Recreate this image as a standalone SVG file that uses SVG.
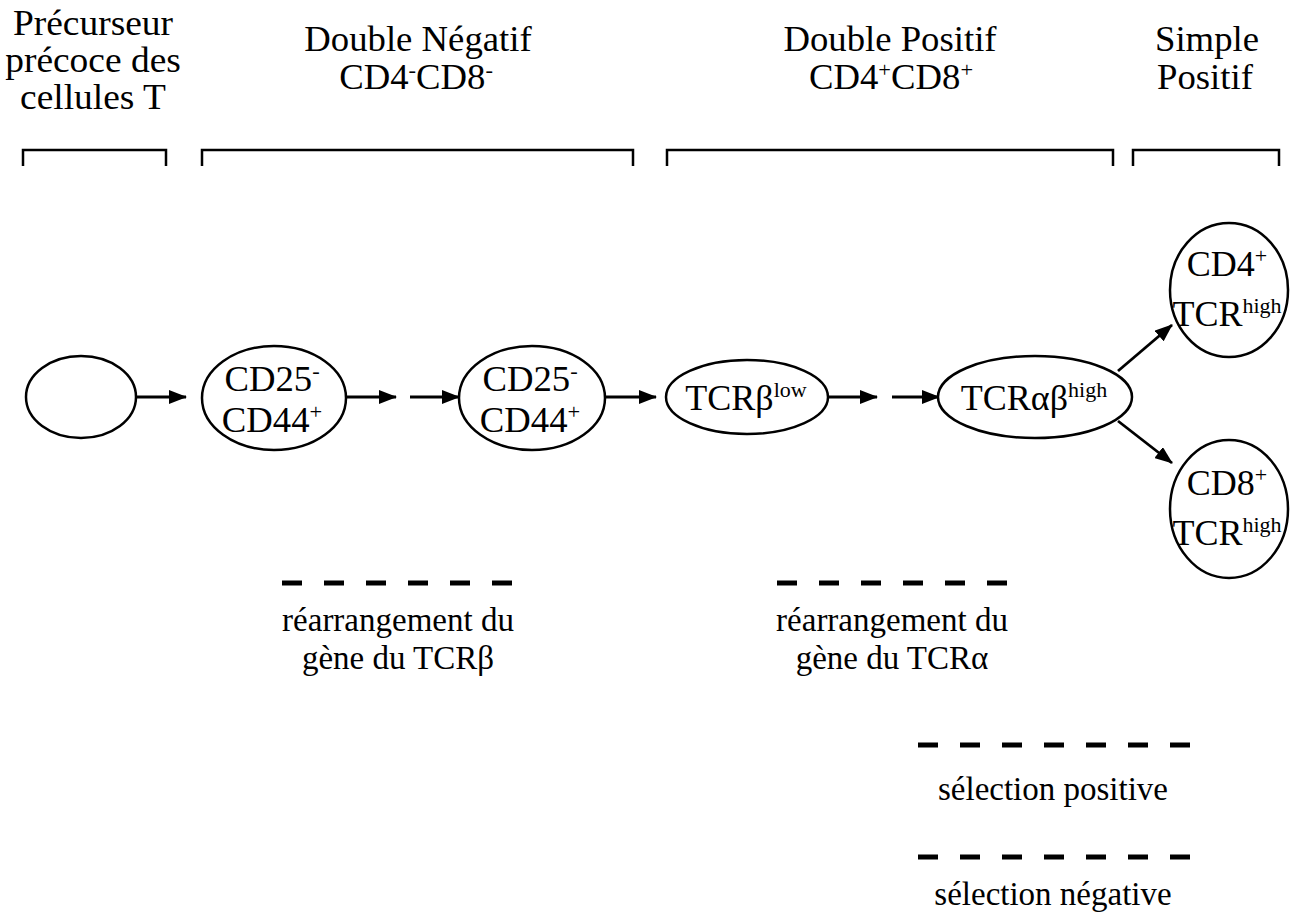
<svg xmlns="http://www.w3.org/2000/svg" width="1293" height="915" viewBox="0 0 1293 915">
<defs>
<style>
.t{font-family:"Liberation Serif","Times New Roman",serif;font-size:36px;fill:#000;text-anchor:middle}
.l{font-size:33px}
.s{font-size:22px}
.node{fill:#fff;stroke:#000;stroke-width:2.5}
.br{fill:none;stroke:#000;stroke-width:2.5}
.ar{fill:none;stroke:#000;stroke-width:2.8;marker-end:url(#ah)}
.dash{fill:none;stroke:#000;stroke-width:5;stroke-dasharray:20 22}
</style>
<marker id="ah" viewBox="0 0 18 14" refX="17" refY="7" markerWidth="18" markerHeight="14" markerUnits="userSpaceOnUse" orient="auto">
<path d="M0,0 L18,7 L0,14 z" fill="#000"/>
</marker>
</defs>
<rect width="1293" height="915" fill="#fff"/>

<g id="headers">
<text class="t" transform="translate(93 35) scale(1.04 1)">Précurseur</text>
<text class="t" transform="translate(93 72) scale(1.04 1)">précoce des</text>
<text class="t" transform="translate(93 109) scale(1.04 1)">cellules T</text>
<text class="t" transform="translate(418 51) scale(1.02 1)">Double Négatif</text>
<text class="t" transform="translate(416 89) scale(1.02 1)">CD4<tspan class="s" dy="-12">-</tspan><tspan dy="12">CD8</tspan><tspan class="s" dy="-12">-</tspan></text>
<text class="t" transform="translate(890 51) scale(1.02 1)">Double Positif</text>
<text class="t" transform="translate(891 89) scale(1.02 1)">CD4<tspan class="s" dy="-12">+</tspan><tspan dy="12">CD8</tspan><tspan class="s" dy="-12">+</tspan></text>
<text class="t" transform="translate(1207 51) scale(1.02 1)">Simple</text>
<text class="t" transform="translate(1205 89) scale(1.02 1)">Positif</text>
</g>

<g id="brackets">
<path class="br" d="M23,166 V150 H166 V166"/>
<path class="br" d="M202,166 V150 H633 V166"/>
<path class="br" d="M667,166 V150 H1113 V166"/>
<path class="br" d="M1133,166 V150 H1279 V166"/>
</g>

<g id="connectors">
<line class="ar" x1="137" y1="397" x2="186" y2="397"/>
<line class="ar" x1="346" y1="397" x2="396" y2="397"/>
<line class="ar" x1="410" y1="397" x2="459" y2="397"/>
<line class="ar" x1="605" y1="397" x2="656" y2="397"/>
<line class="ar" x1="828" y1="397" x2="877" y2="397"/>
<line class="ar" x1="892" y1="397" x2="939" y2="397"/>
<line class="ar" x1="1118" y1="371" x2="1172" y2="325"/>
<line class="ar" x1="1118" y1="421" x2="1172" y2="463"/>
</g>

<g id="n1"><ellipse class="node" cx="81" cy="397" rx="55" ry="41"/></g>
<g id="n2"><ellipse class="node" cx="274" cy="398" rx="72" ry="52"/>
<text class="t" transform="translate(272 391) scale(1.02 1)">CD25<tspan class="s" dy="-13">-</tspan></text>
<text class="t" transform="translate(272 432) scale(1.02 1)">CD44<tspan class="s" dy="-13">+</tspan></text></g>
<g id="n3"><ellipse class="node" cx="532" cy="398" rx="73" ry="52"/>
<text class="t" transform="translate(530 391) scale(1.02 1)">CD25<tspan class="s" dy="-13">-</tspan></text>
<text class="t" transform="translate(530 432) scale(1.02 1)">CD44<tspan class="s" dy="-13">+</tspan></text></g>
<g id="n4"><ellipse class="node" cx="747" cy="397" rx="81" ry="37"/>
<text class="t" transform="translate(746 410) scale(1.0 1)">TCRβ<tspan class="s" dy="-13">low</tspan></text></g>
<g id="n5"><ellipse class="node" cx="1035" cy="397" rx="97" ry="41"/>
<text class="t" transform="translate(1034 410) scale(1.0 1)">TCRαβ<tspan class="s" dy="-13">high</tspan></text></g>
<g id="n6"><ellipse class="node" cx="1229" cy="290" rx="59" ry="67"/>
<text class="t" transform="translate(1227 276) scale(1.0 1)">CD4<tspan class="s" dy="-13">+</tspan></text>
<text class="t" transform="translate(1227 326) scale(1.0 1)">TCR<tspan class="s" dy="-13">high</tspan></text></g>
<g id="n7"><ellipse class="node" cx="1229" cy="509" rx="59" ry="69"/>
<text class="t" transform="translate(1227 495) scale(1.0 1)">CD8<tspan class="s" dy="-13">+</tspan></text>
<text class="t" transform="translate(1227 545) scale(1.0 1)">TCR<tspan class="s" dy="-13">high</tspan></text></g>

<g id="legend">
<line class="dash" x1="282" y1="583" x2="514" y2="583"/>
<text class="t l" x="398" y="631">réarrangement du</text>
<text class="t l" x="398" y="669">gène du TCRβ</text>
<line class="dash" x1="777" y1="583" x2="1009" y2="583"/>
<text class="t l" x="892" y="631">réarrangement du</text>
<text class="t l" x="892" y="669">gène du TCRα</text>
<line class="dash" x1="918" y1="745" x2="1190" y2="745"/>
<text class="t l" x="1053" y="800">sélection positive</text>
<line class="dash" x1="918" y1="857" x2="1190" y2="857"/>
<text class="t l" x="1053" y="905">sélection négative</text>
</g>
</svg>
